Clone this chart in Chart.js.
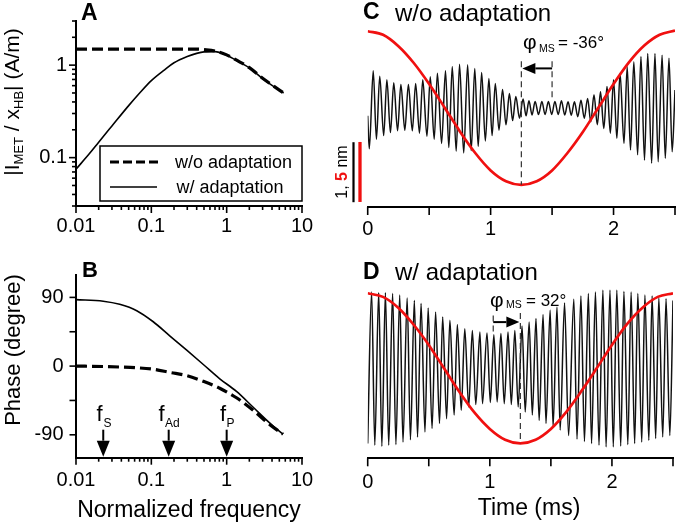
<!DOCTYPE html>
<html>
<head>
<meta charset="utf-8">
<script src="https://cdn.jsdelivr.net/npm/chart.js@4.4.0/dist/chart.umd.min.js"></script>
<style>
  html, body { margin: 0; padding: 0; background: #fff; }
  #fig { position: relative; width: 685px; height: 523px; overflow: hidden;
         font-family: "Liberation Sans", Arial, sans-serif; color: #000; }
  canvas { position: absolute; }
  .t { position: absolute; white-space: nowrap; line-height: 1; }
  .b { font-weight: bold; }
  .rot { transform: translate(-50%, -50%) rotate(-90deg); }
</style>
</head>
<body>
<div id="fig">
  <canvas id="chartA" width="340" height="250" style="left:0;top:0"></canvas>
  <canvas id="chartB" width="340" height="273" style="left:0;top:250px"></canvas>
  <canvas id="chartC" width="345" height="250" style="left:340px;top:0"></canvas>
  <canvas id="chartD" width="345" height="263" style="left:340px;top:260px"></canvas>

  <!-- panel letters and titles -->
  <div class="t b" style="left:81px;top:1px;font-size:23px">A</div>
  <div class="t b" style="left:82px;top:259px;font-size:22px">B</div>
  <div class="t b" style="left:363px;top:0px;font-size:23px">C</div>
  <div class="t" style="left:395px;top:0.5px;font-size:24px">w/o adaptation</div>
  <div class="t b" style="left:363px;top:260px;font-size:23px">D</div>
  <div class="t" style="left:395px;top:260px;font-size:24px">w/ adaptation</div>

  <!-- axis titles -->
  <div class="t rot" style="left:13px;top:102px;font-size:21px">|I<span style="font-size:13px;vertical-align:-4px">MET</span> / x<span style="font-size:13px;vertical-align:-4px">HB</span>| (A/m)</div>
  <div class="t rot" style="left:13px;top:350px;font-size:22px">Phase (degree)</div>
  <div class="t" style="left:189px;top:497.5px;font-size:23px;transform:translateX(-50%)">Normalized frequency</div>
  <div class="t" style="left:529px;top:496px;font-size:23px;transform:translateX(-50%)">Time (ms)</div>

  <!-- legend of A -->
  <div class="t" style="left:175px;top:152.5px;font-size:18px">w/o adaptation</div>
  <div class="t" style="left:176.5px;top:177.5px;font-size:18px">w/ adaptation</div>

  <!-- frequency markers of B -->
  <div class="t" style="left:96.5px;top:403px;font-size:22px">f</div>
  <div class="t" style="left:103.5px;top:416.5px;font-size:12px">S</div>
  <div class="t" style="left:158.5px;top:403px;font-size:22px">f</div>
  <div class="t" style="left:165px;top:416.5px;font-size:12px">Ad</div>
  <div class="t" style="left:220px;top:403px;font-size:22px">f</div>
  <div class="t" style="left:226.5px;top:416.5px;font-size:12px">P</div>

  <!-- phase annotations -->
  <div class="t" style="left:523px;top:30.5px;font-size:21px">φ</div>
  <div class="t" style="left:539px;top:43px;font-size:10.5px">MS</div>
  <div class="t" style="left:558px;top:33.5px;font-size:17px">= -36°</div>
  <div class="t" style="left:490px;top:288.5px;font-size:21px">φ</div>
  <div class="t" style="left:506px;top:299px;font-size:10.5px">MS</div>
  <div class="t" style="left:526px;top:292px;font-size:17px">= 32°</div>

  <!-- scale bar label -->
  <div class="t rot" style="left:342px;top:172px;font-size:16px">1, <span style="color:#f01010;font-weight:bold">5</span> nm</div>
</div>

<script>
// ---- data ----
// A: transducer gain |I_MET / x_HB| (A/m) vs normalized frequency
const freqA = [0.01, 0.015, 0.02, 0.03, 0.05, 0.07, 0.1, 0.15, 0.2, 0.3, 0.4, 0.5, 0.7, 1, 1.5, 2, 3, 4, 5.7];
const gainNoAdapt = [1.49, 1.49, 1.49, 1.49, 1.49, 1.49, 1.49, 1.49, 1.49, 1.49, 1.49, 1.47, 1.42, 1.29, 1.08, 0.94, 0.72, 0.61, 0.50];
const gainAdapt = [0.075, 0.11, 0.147, 0.22, 0.365, 0.50, 0.68, 0.89, 1.06, 1.24, 1.34, 1.39, 1.40, 1.28, 1.07, 0.935, 0.715, 0.605, 0.50];

// B: phase (degree)
const freqB = [0.01, 0.023, 0.038, 0.064, 0.106, 0.177, 0.295, 0.49, 0.81, 1.35, 2.25, 3.75, 5.6];
const phaseNoAdapt = [0, -0.5, -1.2, -2.2, -4.1, -8.3, -12.4, -19.9, -29, -41.5, -58, -76.8, -89.2];
const phaseAdapt = [87.1, 85, 80.9, 72.6, 58.1, 39.4, 20.8, 2.1, -16.6, -33.2, -53.9, -74.7, -89.2];
const markerFreqs = [0.023, 0.17, 1];   // f_S, f_Ad, f_P

// axis ticks
const freqTicks = [0.01, 0.02, 0.03, 0.04, 0.05, 0.06, 0.07, 0.08, 0.09, 0.1, 0.2, 0.3, 0.4, 0.5, 0.6, 0.7, 0.8, 0.9, 1, 2, 3, 4, 5, 6, 7, 8, 9, 10];
const freqLabels = [0.01, 0.1, 1, 10];
const gainTicks = [0.03, 0.04, 0.05, 0.06, 0.07, 0.08, 0.09, 0.1, 0.2, 0.3, 0.4, 0.5, 0.6, 0.7, 0.8, 0.9, 1, 2, 3];
const gainLabels = [0.1, 1];
const phaseTicks = [-90, -45, 0, 45, 90];
const phaseLabels = [-90, 0, 90];
const timeTicks = [0, 0.5, 1, 1.5, 2, 2.5];
const timeLabels = [0, 1, 2];

// C, D: stimulus (red, nm) sampled every 0.125 ms
const stimTime = [0, 0.125, 0.25, 0.375, 0.5, 0.625, 0.75, 0.875, 1, 1.125, 1.25, 1.375, 1.5, 1.625, 1.75, 1.875, 2, 2.125, 2.25, 2.375, 2.5];
const stimC = [6.4, 6.1, 5.15, 3.75, 2.0, 0.05, -1.95, -3.75, -5.2, -6.1, -6.4, -6.1, -5.2, -3.75, -2.0, 0, 2.0, 3.8, 5.2, 6.1, 6.45];
const stimD = [6.25, 5.95, 5.05, 3.65, 1.95, 0, -1.95, -3.7, -5.05, -5.95, -6.25, -5.95, -5.05, -3.65, -1.9, 0, 1.95, 3.7, 5.05, 5.95, 6.25];

// C: bundle response w/o adaptation (nm), peaks and troughs [ms, nm]
const traceC = [
  [0, -0.13], [0.013, -0.68], [0.045, 0.62], [0.071, -0.52], [0.098, 0.53], [0.130, -0.46], [0.156, 0.47],
  [0.185, -0.41], [0.212, 0.42], [0.243, -0.38], [0.270, 0.39], [0.302, -0.37], [0.331, 0.39], [0.363, -0.38],
  [0.390, 0.41], [0.421, -0.42], [0.448, 0.47], [0.482, -0.47], [0.509, 0.52], [0.541, -0.52], [0.567, 0.58],
  [0.601, -0.59], [0.633, 0.62], [0.660, -0.66], [0.688, 0.69], [0.720, -0.72], [0.747, 0.73], [0.781, -0.75],
  [0.813, 0.72], [0.842, -0.71], [0.871, 0.66], [0.899, -0.64], [0.927, 0.59], [0.957, -0.55], [0.986, 0.49],
  [1.012, -0.46], [1.038, 0.41], [1.068, -0.37], [1.097, 0.31], [1.125, -0.28], [1.153, 0.24], [1.179, -0.21],
  [1.205, 0.19], [1.235, -0.17], [1.264, 0.15], [1.288, -0.13], [1.312, 0.12], [1.337, -0.115], [1.362, 0.11],
  [1.390, -0.11], [1.417, 0.11], [1.443, -0.11], [1.470, 0.11], [1.497, -0.11], [1.523, 0.11], [1.550, -0.11],
  [1.576, 0.12], [1.603, -0.115], [1.630, 0.105], [1.656, -0.12], [1.682, 0.105], [1.709, -0.145], [1.735, 0.13],
  [1.762, -0.17], [1.789, 0.16], [1.815, -0.23], [1.841, 0.22], [1.868, -0.28], [1.894, 0.27], [1.921, -0.34],
  [1.947, 0.36], [1.974, -0.42], [2.000, 0.47], [2.027, -0.505], [2.053, 0.58], [2.085, -0.59], [2.111, 0.69],
  [2.138, -0.70], [2.165, 0.77], [2.196, -0.78], [2.223, 0.86], [2.252, -0.87], [2.278, 0.91], [2.310, -0.92],
  [2.337, 0.91], [2.363, -0.895], [2.395, 0.88], [2.421, -0.84], [2.451, 0.83], [2.477, -0.73], [2.5, 0.3]
];

// D: bundle response w/ adaptation (nm)
const traceD = [
  [0, -1.255], [0.032, 1.27], [0.058, -1.28], [0.090, 1.26], [0.116, -1.30], [0.145, 1.26], [0.172, -1.28],
  [0.204, 1.245], [0.231, -1.27], [0.262, 1.22], [0.289, -1.23], [0.323, 1.17], [0.350, -1.19], [0.382, 1.13],
  [0.408, -1.145], [0.437, 1.08], [0.469, -1.06], [0.495, 1.005], [0.527, -1.005], [0.556, 0.94], [0.588, -0.92],
  [0.614, 0.855], [0.646, -0.84], [0.673, 0.80], [0.708, -0.78], [0.734, 0.73], [0.766, -0.70], [0.795, 0.66],
  [0.827, -0.645], [0.857, 0.63], [0.885, -0.605], [0.919, 0.605], [0.940, -0.59], [0.977, 0.59], [1.004, -0.57],
  [1.033, 0.56], [1.060, -0.56], [1.091, 0.58], [1.118, -0.59], [1.149, 0.605], [1.176, -0.605], [1.205, 0.63],
  [1.232, -0.645], [1.264, 0.705], [1.290, -0.73], [1.322, 0.77], [1.348, -0.78], [1.378, 0.83], [1.404, -0.87],
  [1.436, 0.895], [1.460, -0.92], [1.494, 0.97], [1.518, -0.98], [1.550, 1.02], [1.576, -1.03], [1.612, 1.09],
  [1.645, -1.12], [1.688, 1.15], [1.714, -1.18], [1.746, 1.205], [1.775, -1.22], [1.807, 1.245], [1.833, -1.255],
  [1.865, 1.27], [1.894, -1.28], [1.926, 1.30], [1.952, -1.31], [1.984, 1.30], [2.011, -1.31], [2.040, 1.30],
  [2.072, -1.295], [2.098, 1.28], [2.130, -1.27], [2.157, 1.27], [2.186, -1.255], [2.212, 1.245], [2.244, -1.23],
  [2.270, 1.22], [2.302, -1.20], [2.329, 1.205], [2.358, -1.17], [2.384, 1.17], [2.416, -1.145], [2.443, 1.16],
  [2.474, -1.12], [2.5, 1.13]
];

// phase shift marks (ms)
const shiftC = [1.5, 1.25];
const shiftD = [1.028, 1.25];

// ---- drawing ----
Chart.defaults.font.family = '"Liberation Sans", Arial, sans-serif';
Chart.defaults.color = '#000';
Chart.defaults.animation = false;

const RED = '#f01010';

function xy(xs, ys) { return xs.map((x, i) => ({ x: x, y: ys[i] })); }
function pairs(list) { return list.map(p => ({ x: p[0], y: p[1] })); }

// tick marks drawn by hand so major/minor lengths differ
const tickMarks = {
  id: 'tickMarks',
  afterDraw(chart, args, opts) {
    const ctx = chart.ctx;
    ctx.save();
    ctx.strokeStyle = '#000';
    ctx.lineWidth = 1.6;
    (opts.axes || []).forEach(a => {
      const s = chart.scales[a.id];
      a.values.forEach(v => {
        const p = s.getPixelForValue(v);
        const len = a.major.includes(v) ? a.majorLen : a.minorLen;
        ctx.beginPath();
        if (s.isHorizontal()) { ctx.moveTo(p, s.top); ctx.lineTo(p, s.top + len); }
        else { ctx.moveTo(s.right, p); ctx.lineTo(s.right - len, p); }
        ctx.stroke();
      });
    });
    ctx.restore();
  }
};

function axisX(type, min, max, ticks, labels, pad, height) {
  return {
    type: type, min: min, max: max,
    grid: { display: false, drawTicks: false },
    border: { display: true, width: 2, color: '#000' },
    ticks: { autoSkip: false, maxRotation: 0, padding: pad, font: { size: 20 },
             callback: v => labels.includes(v) ? String(v) : '' },
    afterBuildTicks: s => { s.ticks = ticks.map(v => ({ value: v })); },
    afterFit: s => { s.height = height; }
  };
}
function axisY(type, min, max, ticks, labels, pad) {
  return {
    type: type, min: min, max: max,
    grid: { display: false, drawTicks: false },
    border: { display: true, width: 2, color: '#000' },
    ticks: { autoSkip: false, padding: pad, font: { size: 20 },
             callback: v => labels.includes(v) ? String(v) : '' },
    afterBuildTicks: s => { s.ticks = ticks.map(v => ({ value: v })); },
    afterFit: s => { s.width = 76; }
  };
}

function drawArrow(ctx, x1, y1, x2, y2, head, half) {
  const ang = Math.atan2(y2 - y1, x2 - x1);
  const bx = x2 - head * Math.cos(ang), by = y2 - head * Math.sin(ang);
  ctx.beginPath(); ctx.moveTo(x1, y1); ctx.lineTo(bx, by); ctx.stroke();
  ctx.beginPath();
  ctx.moveTo(x2, y2);
  ctx.lineTo(bx + half * Math.sin(ang), by - half * Math.cos(ang));
  ctx.lineTo(bx - half * Math.sin(ang), by + half * Math.cos(ang));
  ctx.closePath(); ctx.fill();
}
function dashedV(ctx, x, y1, y2) {
  ctx.save();
  ctx.strokeStyle = '#333';
  ctx.lineWidth = 1.2;
  ctx.setLineDash([6, 4]);
  ctx.beginPath(); ctx.moveTo(x, y1); ctx.lineTo(x, y2); ctx.stroke();
  ctx.restore();
}

// ---------- A ----------
new Chart(document.getElementById('chartA'), {
  type: 'line',
  data: {
    datasets: [
      { data: xy(freqA, gainNoAdapt), borderColor: '#000', borderWidth: 3.2, borderDash: [11, 5],
        pointRadius: 0, cubicInterpolationMode: 'monotone' },
      { data: xy(freqA, gainAdapt), borderColor: '#000', borderWidth: 1.6,
        pointRadius: 0, cubicInterpolationMode: 'monotone' }
    ]
  },
  options: {
    responsive: false,
    devicePixelRatio: 1,
    layout: { padding: { top: 13, right: 38, left: 0, bottom: 0 } },
    plugins: {
      legend: { display: false }, tooltip: { enabled: false },
      tickMarks: { axes: [
        { id: 'x', values: freqTicks, major: freqLabels, majorLen: 7, minorLen: 4 },
        { id: 'y', values: gainTicks, major: gainLabels, majorLen: 7, minorLen: 4 }
      ] }
    },
    scales: {
      x: axisX('logarithmic', 0.01, 10, freqTicks, freqLabels, 8, 44),
      y: axisY('logarithmic', 0.03, 3, gainTicks, gainLabels, 9)
    }
  },
  plugins: [tickMarks, {
    id: 'legendBox',
    afterDraw(chart) {
      const ctx = chart.ctx;
      const ds = chart.data.datasets;
      ctx.save();
      ctx.strokeStyle = '#000';
      ctx.lineWidth = 1.5;
      ctx.strokeRect(100, 146, 202, 55);
      ctx.lineWidth = ds[0].borderWidth;
      ctx.setLineDash([9, 4]);
      ctx.beginPath(); ctx.moveTo(110, 162); ctx.lineTo(158, 162); ctx.stroke();
      ctx.setLineDash([]);
      ctx.lineWidth = ds[1].borderWidth;
      ctx.beginPath(); ctx.moveTo(110, 187); ctx.lineTo(157, 187); ctx.stroke();
      ctx.restore();
    }
  }]
});

// ---------- B ----------
new Chart(document.getElementById('chartB'), {
  type: 'line',
  data: {
    datasets: [
      { data: xy(freqB, phaseNoAdapt), borderColor: '#000', borderWidth: 3.2, borderDash: [11, 5],
        pointRadius: 0, cubicInterpolationMode: 'monotone' },
      { data: xy(freqB, phaseAdapt), borderColor: '#000', borderWidth: 1.6,
        pointRadius: 0, cubicInterpolationMode: 'monotone' }
    ]
  },
  options: {
    responsive: false,
    devicePixelRatio: 1,
    layout: { padding: { top: 13.6, right: 38, left: 0, bottom: 0 } },
    plugins: {
      legend: { display: false }, tooltip: { enabled: false },
      tickMarks: { axes: [
        { id: 'x', values: freqTicks, major: freqLabels, majorLen: 7, minorLen: 4 },
        { id: 'y', values: phaseTicks, major: phaseTicks, majorLen: 6.5, minorLen: 6.5 }
      ] }
    },
    scales: {
      x: axisX('logarithmic', 0.01, 10, freqTicks, freqLabels, 11, 65.3),
      y: axisY('linear', -120, 120, phaseTicks, phaseLabels, 12.5)
    }
  },
  plugins: [tickMarks, {
    id: 'markers',
    afterDraw(chart) {
      const ctx = chart.ctx, s = chart.scales.x, bottom = chart.chartArea.bottom - 1;
      ctx.save();
      ctx.strokeStyle = '#000'; ctx.fillStyle = '#000'; ctx.lineWidth = 2;
      markerFreqs.forEach(f => {
        const x = s.getPixelForValue(f);
        drawArrow(ctx, x, bottom - 27, x, bottom, 16, 6.5);
      });
      ctx.restore();
    }
  }]
});

// ---------- C and D ----------
function timeChart(id, stim, trace, yRange, rRange, padTop, xHeight, labelPad, annot) {
  return new Chart(document.getElementById(id), {
    type: 'line',
    data: {
      datasets: [
        { data: xy(stimTime, stim), yAxisID: 'yr', borderColor: RED, borderWidth: 2.7,
          pointRadius: 0, cubicInterpolationMode: 'monotone' },
        { data: pairs(trace), yAxisID: 'y', borderColor: '#111', borderWidth: 1.5,
          pointRadius: 0, cubicInterpolationMode: 'monotone' }
      ]
    },
    options: {
      responsive: false,
      devicePixelRatio: 1,
      layout: { padding: { top: padTop, right: 2.5, left: 27.7, bottom: 0 } },
      plugins: {
        legend: { display: false }, tooltip: { enabled: false },
        tickMarks: { axes: [
          { id: 'x', values: timeTicks, major: timeTicks, majorLen: 8, minorLen: 8 }
        ] }
      },
      scales: {
        x: axisX('linear', 0, 2.5, timeTicks, timeLabels, labelPad, xHeight),
        y: { type: 'linear', display: false, min: yRange[0], max: yRange[1] },
        yr: { type: 'linear', display: false, position: 'left', min: rRange[0], max: rRange[1] }
      }
    },
    plugins: [tickMarks, { id: 'annot', afterDraw: annot }]
  });
}

timeChart('chartC', stimC, traceC, [-1.65, 1.45], [-8.25, 7.25], 21, 43, 10, chart => {
  const ctx = chart.ctx, x = chart.scales.x, y = chart.scales.y, yr = chart.scales.yr;
  const xa = x.getPixelForValue(shiftC[0]), xb = x.getPixelForValue(shiftC[1]);
  dashedV(ctx, xb, y.getPixelForValue(0.78), yr.getPixelForValue(Math.min(...stimC)));
  dashedV(ctx, xa, y.getPixelForValue(0.78), y.getPixelForValue(0.16));
  ctx.save();
  ctx.strokeStyle = '#000'; ctx.fillStyle = '#000'; ctx.lineWidth = 2;
  const ya = y.getPixelForValue(0.66);
  drawArrow(ctx, xa, ya, xb + 1, ya, 13, 5.5);
  ctx.restore();
  // scale bars: 1 nm (black) and 5 nm (red)
  ctx.save();
  ctx.strokeStyle = '#000'; ctx.lineWidth = 2.2; ctx.setLineDash([]);
  ctx.beginPath();
  ctx.moveTo(13.5, y.getPixelForValue(-0.57)); ctx.lineTo(13.5, y.getPixelForValue(-1.57));
  ctx.stroke();
  ctx.strokeStyle = RED; ctx.lineWidth = 3.3;
  ctx.beginPath();
  ctx.moveTo(20, yr.getPixelForValue(-2.83)); ctx.lineTo(20, yr.getPixelForValue(-7.83));
  ctx.stroke();
  ctx.restore();
});

timeChart('chartD', stimD, traceD, [-1.5, 1.45], [-7.5, 7.25], 21.3, 64.7, 12, chart => {
  const ctx = chart.ctx, x = chart.scales.x, y = chart.scales.y, yr = chart.scales.yr;
  const xa = x.getPixelForValue(shiftD[0]), xb = x.getPixelForValue(shiftD[1]);
  dashedV(ctx, xb, y.getPixelForValue(0.92), yr.getPixelForValue(Math.min(...stimD)));
  dashedV(ctx, xa, y.getPixelForValue(0.88), y.getPixelForValue(0.6));
  ctx.save();
  ctx.strokeStyle = '#000'; ctx.fillStyle = '#000'; ctx.lineWidth = 2;
  const ya = y.getPixelForValue(0.77);
  drawArrow(ctx, xa, ya, xb - 1, ya, 13, 5.5);
  ctx.restore();
});
</script>
</body>
</html>
